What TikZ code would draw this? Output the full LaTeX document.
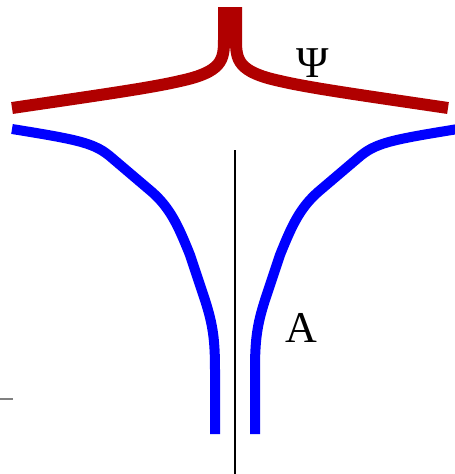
\documentclass[tikz,border=0pt]{standalone}
\usepackage{fontspec}
\setmainfont{Liberation Serif}
\usetikzlibrary{positioning,calc}
\definecolor{darkred}{RGB}{176,0,0}

\begin{document}
\begin{tikzpicture}[x=1pt,y=-1pt,every node/.style={font=\fontsize{44}{44}\selectfont},
  psiline/.style={draw=darkred,line width=12pt},
  aline/.style={draw=blue,line width=10pt}]
\useasboundingbox (0,0) rectangle (455,474);
% axis and tick
\coordinate (axtop) at (235,150);
\coordinate (axbot) at (235,474);
\draw[line width=1.4pt] (axtop) -- (axbot);
\coordinate (tickl) at (0,399);
\coordinate (tickr) at (13,399);
\draw[gray,line width=2pt] (tickl) -- (tickr);
% scalar field Psi
\draw[psiline] (12,108) .. controls (100,95) and (150,88) .. (180,81) .. controls (222,72) and (224,60) .. (224,40) -- (224,7);
\draw[psiline] (448,108) .. controls (360,95) and (310,88) .. (280,81) .. controls (238,72) and (236,60) .. (236,40) -- (236,7);
% field A
\draw[aline] (12,129) .. controls (80,140) and (95,143) .. (112,158) -- (152,192)
  .. controls (170,208) and (178,225) .. (190,255) -- (205,300)
  .. controls (213,325) and (215,340) .. (215,370) -- (215,434);
\draw[aline] (458,129) .. controls (390,140) and (375,143) .. (358,158) -- (318,192)
  .. controls (300,208) and (292,225) .. (280,255) -- (265,300)
  .. controls (257,325) and (255,340) .. (255,370) -- (255,434);
\node (psi) at (313,63) {Ψ};
\node (a) at (301,328) {A};
\end{tikzpicture}
\end{document}
